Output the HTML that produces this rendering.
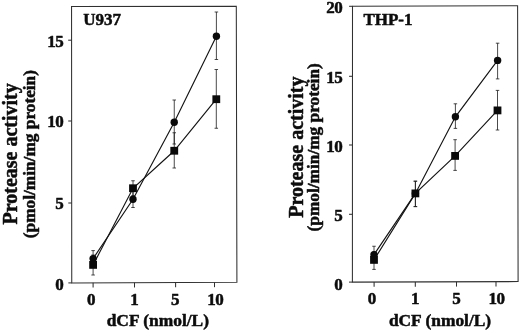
<!DOCTYPE html>
<html><head><meta charset="utf-8"><title>Protease activity</title>
<style>
html,body{margin:0;padding:0;background:#fff;}
body{width:520px;height:330px;overflow:hidden;}
svg{display:block;will-change:transform;}
text{font-family:"Liberation Serif",serif;font-weight:bold;fill:#0c0c0c;stroke:#0c0c0c;stroke-width:0.5px;stroke-linejoin:round;}
</style></head>
<body>
<svg width="520" height="330" viewBox="0 0 520 330">
<rect width="520" height="330" fill="#ffffff"/>
<g fill="none" stroke="#303030" stroke-width="1.05">
<polygon points="71.55,6.5 236.3,6.3 236.9,282.3 71.75,282.9"/>
<path d="M68.17 40.2H71.57"/>
<path d="M68.23 121H71.63"/>
<path d="M68.29 203H71.69"/>
<path d="M68.35 282.9H71.75"/>
<path d="M93.1 282.82V287.62"/>
<path d="M134.5 282.67V287.47"/>
<path d="M175.6 282.52V287.32"/>
<path d="M214.5 282.38V287.18"/>
</g>
<g fill="none" stroke="#1c1c1c" stroke-width="0.8">
<path d="M93.1 250.6V266M91.35 250.6H94.85M91.35 266H94.85"/>
<path d="M133 191V207.5M131.25 191H134.75M131.25 207.5H134.75"/>
<path d="M174.25 100V144M172.5 100H176.0M172.5 144H176.0"/>
<path d="M216.4 12V59.5M214.65 12H218.15M214.65 59.5H218.15"/>
<path d="M93.1 255V275M91.35 255H94.85M91.35 275H94.85"/>
<path d="M133 180.75V195.75M131.25 180.75H134.75M131.25 195.75H134.75"/>
<path d="M174.25 132.75V168M172.5 132.75H176.0M172.5 168H176.0"/>
<path d="M216.3 69.5V128.25M214.55 69.5H218.05M214.55 128.25H218.05"/>
</g>
<g fill="none" stroke="#141414" stroke-width="1.15">
<polyline points="93.1,258.6 133,199.25 174.25,122.25 216.4,36.2"/>
<polyline points="93.1,264.9 133,188.25 174.25,150.75 216.3,99.2"/>
</g>
<g fill="#0a0a0a">
<circle cx="93.1" cy="258.6" r="3.7"/>
<circle cx="133" cy="199.25" r="3.7"/>
<circle cx="174.25" cy="122.25" r="3.7"/>
<circle cx="216.4" cy="36.2" r="3.7"/>
<rect x="89.20" y="261.00" width="7.8" height="7.8"/>
<rect x="129.10" y="184.35" width="7.8" height="7.8"/>
<rect x="170.35" y="146.85" width="7.8" height="7.8"/>
<rect x="212.40" y="95.30" width="7.8" height="7.8"/>
</g>
<g fill="none" stroke="#303030" stroke-width="1.05">
<polygon points="352.5,6.3 517.6,5.7 518.1,281.6 352.4,282.1"/>
<path d="M349.10 6.3H352.50"/>
<path d="M349.07 76.3H352.47"/>
<path d="M349.05 145.0H352.45"/>
<path d="M349.02 214.3H352.42"/>
<path d="M349.00 282.1H352.40"/>
<path d="M374.1 282.03V286.83"/>
<path d="M415.3 281.91V286.71"/>
<path d="M456.5 281.79V286.59"/>
<path d="M496 281.67V286.47"/>
</g>
<g fill="none" stroke="#1c1c1c" stroke-width="0.8">
<path d="M374 246.25V262M372.25 246.25H375.75M372.25 262H375.75"/>
<path d="M415.4 181.2V206.6M413.65 181.2H417.15M413.65 206.6H417.15"/>
<path d="M455.4 103.8V128.4M453.65 103.8H457.15M453.65 128.4H457.15"/>
<path d="M497.6 43.2V78.9M495.85 43.2H499.35M495.85 78.9H499.35"/>
<path d="M374 252V269.4M372.25 252H375.75M372.25 269.4H375.75"/>
<path d="M415.4 181.2V206.6M413.65 181.2H417.15M413.65 206.6H417.15"/>
<path d="M455.1 139.7V170.4M453.35 139.7H456.85M453.35 170.4H456.85"/>
<path d="M497.5 90.4V130M495.75 90.4H499.25M495.75 130H499.25"/>
</g>
<g fill="none" stroke="#141414" stroke-width="1.15">
<polyline points="374,254.6 415.4,193.4 455.4,116.8 497.6,60.4"/>
<polyline points="374,259.9 415.4,193.4 455.1,155.9 497.5,110.4"/>
</g>
<g fill="#0a0a0a">
<circle cx="374" cy="254.6" r="3.7"/>
<circle cx="415.4" cy="193.4" r="3.7"/>
<circle cx="455.4" cy="116.8" r="3.7"/>
<circle cx="497.6" cy="60.4" r="3.7"/>
<rect x="370.10" y="256.00" width="7.8" height="7.8"/>
<rect x="411.50" y="189.50" width="7.8" height="7.8"/>
<rect x="451.20" y="152.00" width="7.8" height="7.8"/>
<rect x="493.60" y="106.50" width="7.8" height="7.8"/>
</g>
<text x="83.2" y="25.1" font-size="17" text-anchor="start" >U937</text>
<text x="63.2" y="46.5" font-size="17" text-anchor="end"  letter-spacing="-0.5">15</text>
<text x="63.2" y="127.2" font-size="17" text-anchor="end"  letter-spacing="-0.5">10</text>
<text x="63.7" y="208.7" font-size="17" text-anchor="end" >5</text>
<text x="63.7" y="289.6" font-size="17" text-anchor="end" >0</text>
<text x="91.2" y="304.5" font-size="17" text-anchor="middle" >0</text>
<text x="134.6" y="304.5" font-size="17" text-anchor="middle" >1</text>
<text x="175.3" y="304.5" font-size="17" text-anchor="middle" >5</text>
<text x="215.3" y="304.5" font-size="17" text-anchor="middle"  letter-spacing="-0.5">10</text>
<text x="106.7" y="326.4" font-size="17.4" text-anchor="start" >dCF (nmol/L)</text>
<text transform="translate(17 224.5) rotate(-90)" font-size="20">Protease activity</text>
<text transform="translate(34.5 238.2) rotate(-90)" font-size="17.3">(pmol/min/mg protein)</text>
<text x="363.4" y="24.9" font-size="17" text-anchor="start" >THP-1</text>
<text x="342.3" y="13.2" font-size="17" text-anchor="end"  letter-spacing="-0.5">20</text>
<text x="342.3" y="82.6" font-size="17" text-anchor="end"  letter-spacing="-0.5">15</text>
<text x="342.3" y="151.8" font-size="17" text-anchor="end"  letter-spacing="-0.5">10</text>
<text x="342.8" y="220.6" font-size="17" text-anchor="end" >5</text>
<text x="342.8" y="289.8" font-size="17" text-anchor="end" >0</text>
<text x="372" y="304.2" font-size="17" text-anchor="middle" >0</text>
<text x="415.3" y="304.2" font-size="17" text-anchor="middle" >1</text>
<text x="456.6" y="304.2" font-size="17" text-anchor="middle" >5</text>
<text x="496.6" y="304.2" font-size="17" text-anchor="middle"  letter-spacing="-0.5">10</text>
<text x="388.9" y="326.3" font-size="17.4" text-anchor="start" >dCF (nmol/L)</text>
<text transform="translate(302.5 217.8) rotate(-90)" font-size="20">Protease activity</text>
<text transform="translate(318.5 231.4) rotate(-90)" font-size="17.3">(pmol/min/mg protein)</text>
</svg>
</body></html>
